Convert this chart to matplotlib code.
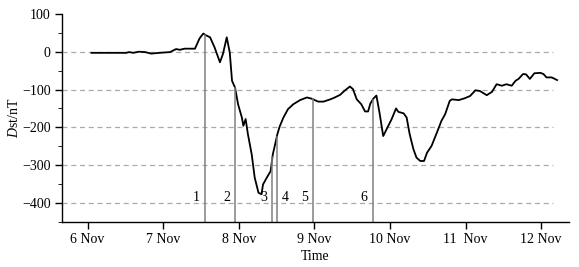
import numpy as np
import matplotlib
matplotlib.use("Agg")
import matplotlib.pyplot as plt

plt.rcParams['font.family'] = ['Liberation Serif', 'DejaVu Serif']
plt.rcParams['mathtext.fontset'] = 'custom'
plt.rcParams['mathtext.rm'] = 'Liberation Serif'
plt.rcParams['mathtext.it'] = 'Liberation Serif:italic'

# time in days of November, Dst in nT
time = [6.05, 6.51, 6.55, 6.60, 6.68, 6.76, 6.84, 6.95, 7.09, 7.17, 7.22, 7.28, 7.42, 7.48,
        7.53, 7.56, 7.62, 7.68, 7.75, 7.79, 7.84, 7.88, 7.91, 7.95, 7.99, 8.04, 8.06, 8.09,
        8.12, 8.17, 8.21, 8.26, 8.30, 8.32, 8.37, 8.42, 8.45, 8.48, 8.51, 8.54, 8.59, 8.65,
        8.72, 8.81, 8.90, 8.96, 9.05, 9.12, 9.21, 9.27, 9.34, 9.40, 9.47, 9.51, 9.56, 9.62,
        9.67, 9.71, 9.74, 9.78, 9.82, 9.86, 9.91, 9.96, 10.02, 10.08, 10.11, 10.18, 10.22,
        10.26, 10.31, 10.35, 10.40, 10.45, 10.49, 10.55, 10.62, 10.68, 10.73, 10.79, 10.82,
        10.91, 10.99, 11.06, 11.13, 11.19, 11.28, 11.35, 11.41, 11.48, 11.54, 11.61, 11.66,
        11.70, 11.76, 11.80, 11.85, 11.91, 11.99, 12.03, 12.07, 12.14, 12.21]
dst = [-3, -3, -1, -3, 0, -1, -5, -3, -1, 7, 5, 8, 8, 35,
       48, 44, 38, 11, -28, -6, 38, -2, -77, -95, -139, -174, -196, -178,
       -218, -271, -333, -373, -377, -351, -333, -316, -271, -245, -218, -198, -174, -152,
       -139, -128, -121, -124, -132, -132, -126, -121, -114, -103, -92, -99, -126, -139,
       -158, -158, -137, -124, -116, -160, -223, -203, -179, -150, -159, -163, -174,
       -218, -258, -280, -289, -289, -267, -249, -214, -183, -165, -130, -126,
       -128, -123, -117, -102, -104, -115, -106, -86, -90, -86, -90, -77,
       -72, -59, -60, -72, -57, -56, -59, -68, -68, -75]

events = [7.55, 7.95, 8.445, 8.503, 8.98, 9.77]
event_labels = ["1", "2", "3", "4", "5", "6"]

days = [6, 7, 8, 9, 10, 11, 12]
day_labels = ["6 Nov", "7 Nov", "8 Nov", "9 Nov", "10 Nov", "11  Nov", "12 Nov"]
grid_levels = [0, -100, -200, -300, -400]

fig = plt.figure(figsize=(5.79, 2.67), dpi=100)
ax = fig.add_axes([0.107, 0.169, 0.876, 0.779])

ax.hlines(grid_levels, 5.66, 12.16, colors="#aaaaaa", linestyles=(0, (4, 3)), lw=0.9)
ax.plot(time, dst, color="black", lw=1.3)

# vertical event lines, from the axis up to the curve
for t, lab in zip(events, event_labels):
    top = np.interp(t, time, dst)
    ax.plot([t, t], [-450, top], color="#808080", lw=1.1)
    dx = 6 if lab == "4" else -6
    ax.annotate(lab, (t, -385), xytext=(dx, 0), textcoords="offset points",
                ha="center", va="center", fontsize=10)

ax.set_xlim(5.66, 12.37)
ax.set_ylim(-450, 100)
ax.set_xticks(days)
ax.set_xticklabels(day_labels)
ax.set_yticks([100, 0, -100, -200, -300, -400])
ax.set_yticks(np.arange(-450, 100, 50), minor=True)
ax.tick_params(axis="both", labelsize=10, direction="out", width=1.0, pad=3)
ax.tick_params(axis="x", length=5)
ax.tick_params(axis="y", which="major", length=5)
ax.tick_params(axis="y", which="minor", length=3)

for s in ["top", "right"]:
    ax.spines[s].set_visible(False)
ax.spines["left"].set_linewidth(1.0)
ax.spines["bottom"].set_linewidth(1.0)

ax.set_xlabel("Time", fontsize=10, labelpad=3)
ax.set_ylabel("$\\mathit{D}$st/nT", fontsize=10, labelpad=1)

fig.savefig("out.png", dpi=100)
